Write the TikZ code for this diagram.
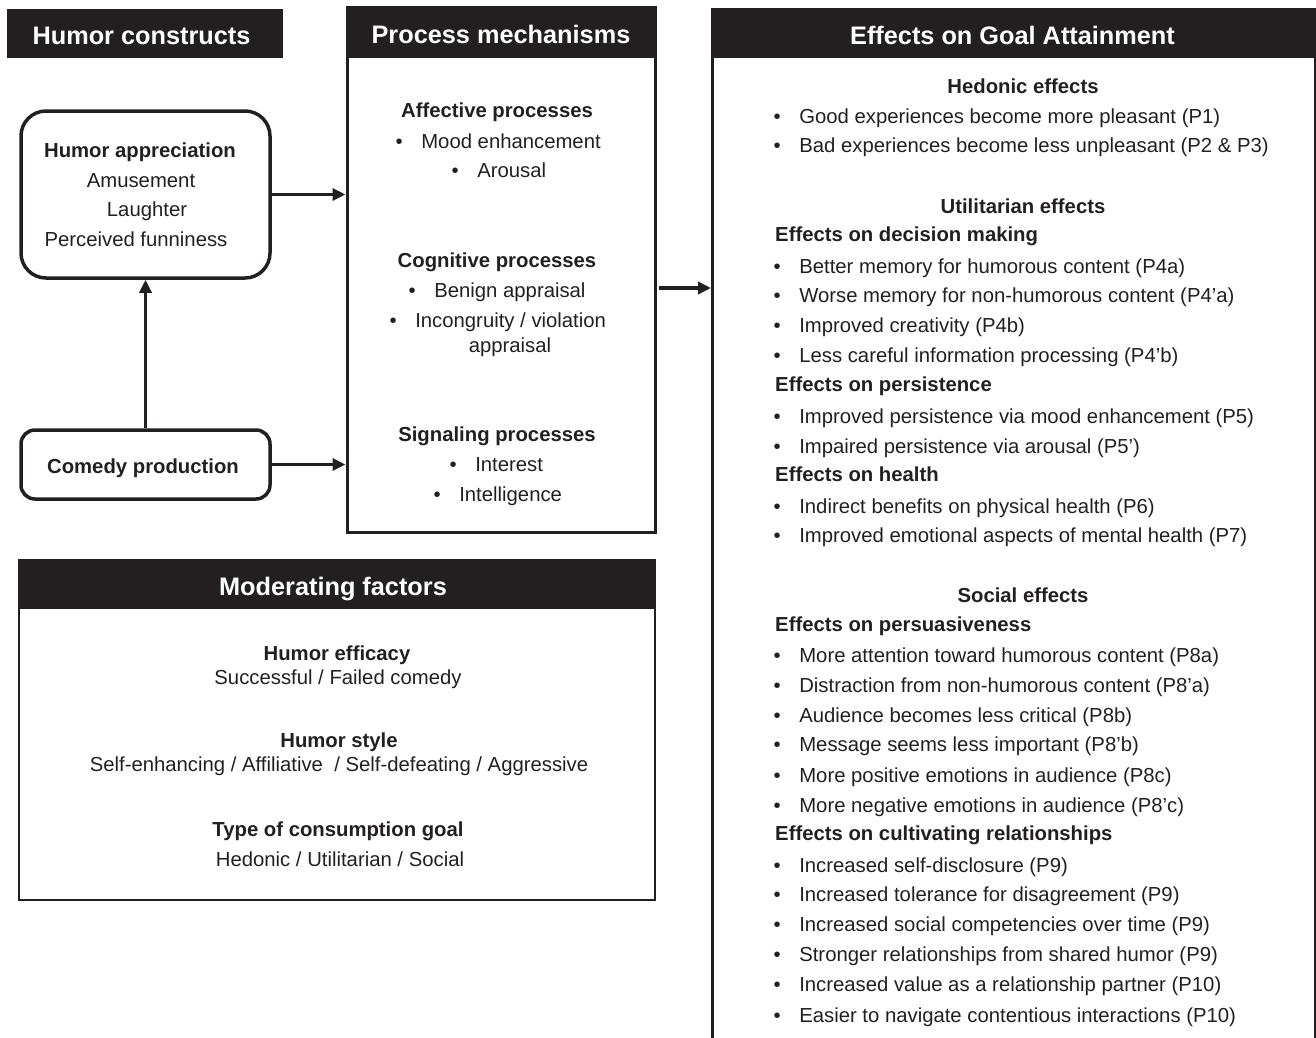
\documentclass[tikz,border=0pt]{standalone}
\usepackage{fontspec}
\setmainfont{Liberation Sans}
\usetikzlibrary{arrows.meta,calc}
\definecolor{ink}{HTML}{231F20}
\newcommand\bl{•\hspace{18.5pt}}
\begin{document}
\begin{tikzpicture}[x=1pt,y=-1pt,
  body/.style={font=\fontsize{20.3}{24}\selectfont, text=ink, inner sep=0pt, text height=14.6pt, text depth=0pt},
  bodyb/.style={body, font=\fontsize{20.3}{24}\selectfont\bfseries},
  item/.style={body, anchor=west},
  sect/.style={bodyb, anchor=west},
  head/.style={fill=ink, text=white, font=\fontsize{25.3}{30}\selectfont\bfseries, inner sep=0pt, text height=22pt, text depth=0pt},
  frame/.style={draw=ink, line width=3pt, inner sep=0pt},
  arr/.style={draw=ink, line width=3.6pt, -{Triangle[length=13pt,width=12pt]}}
]
\useasboundingbox (0,0) rectangle (1316,1037);

% ---------- Humor constructs ----------
\node[head, minimum width=276, minimum height=49] (hch) at (145,33.5) {\hspace{-7pt}Humor constructs};

\node[frame, line width=3.5pt, rounded corners=25pt, minimum width=249, minimum height=167] (ha) at (145.5,194.5) {};
\node[bodyb] (ha0) at (140,150) {Humor appreciation};
\node[body] (ha1) at (141,180) {Amusement};
\node[body] (ha2) at (147,209) {Laughter};
\node[body] (ha3) at (136,239) {Perceived funniness};

\node[frame, line width=3.5pt, rounded corners=14pt, minimum width=249, minimum height=69] (cp) at (145.5,464.5) {};
\node[bodyb] (cp0) at (143,466) {Comedy production};

% ---------- Process mechanisms ----------
\node[frame, minimum width=308, minimum height=525] (pm) at (501,269.5) {};
\node[head, minimum width=308, minimum height=51] (pmh) at (501,32.5) {Process mechanisms};
\node[bodyb] (pa) at (497,110) {Affective processes};
\node[item] (pa1) at (395.5,141) {\bl Mood enhancement};
\node[item] (pa2) at (451.5,170) {\bl Arousal};
\node[bodyb] (pc) at (497,260) {Cognitive processes};
\node[item] (pc1) at (408.5,290) {\bl Benign appraisal};
\node[item] (pc2) at (389.5,320) {\bl Incongruity / violation};
\node[body] (pc3) at (510,345) {appraisal};
\node[bodyb] (ps) at (497,434) {Signaling processes};
\node[item] (ps1) at (449.5,464) {\bl Interest};
\node[item] (ps2) at (433.5,494) {\bl Intelligence};

% ---------- Moderating factors ----------
\node[frame, line width=2.5pt, minimum width=636, minimum height=340] (mf) at (337,730) {};
\node[head, minimum width=636, minimum height=49] (mfh) at (337,584.5) {\hspace{-8pt}Moderating factors};
\node[bodyb] (m1) at (337,653) {Humor efficacy};
\node[body] (m1a) at (338,677) {Successful / Failed comedy};
\node[bodyb] (m2) at (339,740) {Humor style};
\node[body] (m2a) at (339,764) {Self-enhancing / Affiliative \ / Self-defeating / Aggressive};
\node[bodyb] (m3) at (338,829) {Type of consumption goal};
\node[body] (m3a) at (340,859) {Hedonic / Utilitarian / Social};

% ---------- Effects on Goal Attainment ----------
\node[frame, anchor=north west, minimum width=603, minimum height=1070] (eff) at (711,8) {};
\node[head, minimum width=603, minimum height=50] (effh) at (1012.5,33) {Effects on Goal Attainment};

\node[bodyb] (h0) at (1023,86) {Hedonic effects};
\node[item] (h1) at (773.5,116) {\bl Good experiences become more pleasant (P1)};
\node[item] (h2) at (773.5,145) {\bl Bad experiences become less unpleasant (P2 \& P3)};

\node[bodyb] (u0) at (1023,206) {Utilitarian effects};
\node[sect] (u1) at (775,234) {Effects on decision making};
\node[item] (u1a) at (773.5,266) {\bl Better memory for humorous content (P4a)};
\node[item] (u1b) at (773.5,295) {\bl Worse memory for non-humorous content (P4’a)};
\node[item] (u1c) at (773.5,325) {\bl Improved creativity (P4b)};
\node[item] (u1d) at (773.5,355) {\bl Less careful information processing (P4’b)};
\node[sect] (u2) at (775,384) {Effects on persistence};
\node[item] (u2a) at (773.5,416) {\bl Improved persistence via mood enhancement (P5)};
\node[item] (u2b) at (773.5,446) {\bl Impaired persistence via arousal (P5’)};
\node[sect] (u3) at (775,474) {Effects on health};
\node[item] (u3a) at (773.5,506) {\bl Indirect benefits on physical health (P6)};
\node[item] (u3b) at (773.5,535) {\bl Improved emotional aspects of mental health (P7)};

\node[bodyb] (s0) at (1023,595) {Social effects};
\node[sect] (s1) at (775,624) {Effects on persuasiveness};
\node[item] (s1a) at (773.5,655) {\bl More attention toward humorous content (P8a)};
\node[item] (s1b) at (773.5,685) {\bl Distraction from non-humorous content (P8’a)};
\node[item] (s1c) at (773.5,715) {\bl Audience becomes less critical (P8b)};
\node[item] (s1d) at (773.5,744) {\bl Message seems less important (P8’b)};
\node[item] (s1e) at (773.5,775) {\bl More positive emotions in audience (P8c)};
\node[item] (s1f) at (773.5,805) {\bl More negative emotions in audience (P8’c)};
\node[sect] (s2) at (775,833) {Effects on cultivating relationships};
\node[item] (s2a) at (773.5,865) {\bl Increased self-disclosure (P9)};
\node[item] (s2b) at (773.5,894) {\bl Increased tolerance for disagreement (P9)};
\node[item] (s2c) at (773.5,924) {\bl Increased social competencies over time (P9)};
\node[item] (s2d) at (773.5,954) {\bl Stronger relationships from shared humor (P9)};
\node[item] (s2e) at (773.5,984) {\bl Increased value as a relationship partner (P10)};
\node[item] (s2f) at (773.5,1015) {\bl Easier to navigate contentious interactions (P10)};

% ---------- Connectors ----------
\draw[arr] (cp.north) -- (ha.south);
\draw[arr] (ha.east) -- (ha.east -| pm.west);
\draw[arr] (cp.east) -- (cp.east -| pm.west);
\draw[arr, shorten <=2pt] ([yshift=-18.5pt]pm.east) -- ([yshift=-18.5pt]pm.east -| eff.west);
\end{tikzpicture}
\end{document}
